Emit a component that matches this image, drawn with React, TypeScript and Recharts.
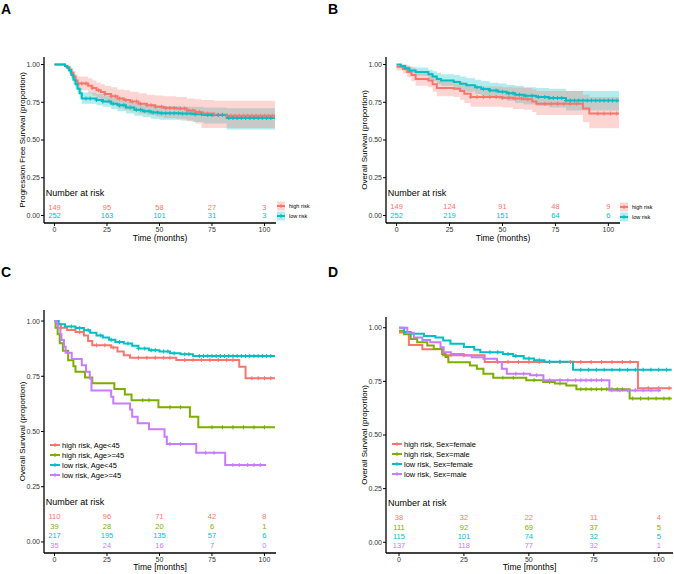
import React from "react";
import { ComposedChart, Line, Area, Scatter, XAxis, YAxis, Legend } from "recharts";

const RED = "#F8766D";
const GREEN = "#7CAE00";
const CYAN = "#00BFC4";
const PURPLE = "#C77CFF";
const FONT = '"Liberation Sans", Arial, Helvetica, sans-serif';

const RISK_T = [0, 25, 50, 75, 100];
const Y_TICKS = [0, 0.25, 0.5, 0.75, 1];

// ---- A: progression free survival, high / low risk
const aHighT = [0, 5, 6, 7, 8, 9, 10, 11, 16, 18, 20, 22, 24, 27, 30, 33, 36, 40, 44, 48, 52, 58, 63, 67, 70, 76, 82, 105];
const aHighS = [1, 0.99, 0.98, 0.965, 0.945, 0.92, 0.895, 0.875, 0.86, 0.845, 0.83, 0.818, 0.805, 0.79, 0.775, 0.765, 0.755, 0.74, 0.73, 0.72, 0.712, 0.708, 0.695, 0.685, 0.675, 0.668, 0.66, 0.66];
const aHighLo = [1, 0.975, 0.96, 0.94, 0.915, 0.885, 0.855, 0.83, 0.81, 0.795, 0.775, 0.76, 0.745, 0.73, 0.71, 0.7, 0.69, 0.675, 0.665, 0.655, 0.645, 0.64, 0.625, 0.61, 0.58, 0.58, 0.58, 0.58];
const aHighHi = [1, 1, 1, 0.99, 0.975, 0.955, 0.935, 0.92, 0.91, 0.895, 0.88, 0.87, 0.86, 0.85, 0.835, 0.83, 0.82, 0.81, 0.8, 0.795, 0.79, 0.785, 0.775, 0.77, 0.765, 0.76, 0.76, 0.76];
const aHighCens = [13, 15, 18, 21, 24, 27, 29, 31, 34, 37, 39, 41, 44, 46, 48, 51, 53, 55, 57, 60, 62, 64, 66, 69, 71, 73, 76, 78, 80, 82, 84, 86, 88, 90, 92, 94, 96, 98, 100, 102, 104];
const aHighRisk = [149, 95, 58, 27, 3];

const aLowT = [0, 5, 6, 7, 8, 9, 10, 11, 12, 13, 20, 23, 27, 30, 34, 38, 42, 46, 50, 60, 66, 71, 82, 105];
const aLowS = [1, 0.99, 0.98, 0.96, 0.93, 0.9, 0.87, 0.84, 0.81, 0.775, 0.765, 0.755, 0.74, 0.73, 0.715, 0.7, 0.69, 0.683, 0.678, 0.675, 0.67, 0.665, 0.645, 0.645];
const aLowLo = [1, 0.98, 0.965, 0.94, 0.905, 0.87, 0.84, 0.805, 0.775, 0.74, 0.73, 0.72, 0.705, 0.69, 0.675, 0.66, 0.65, 0.64, 0.635, 0.63, 0.62, 0.61, 0.57, 0.57];
const aLowHi = [1, 1, 0.995, 0.98, 0.955, 0.93, 0.9, 0.875, 0.845, 0.815, 0.805, 0.795, 0.78, 0.77, 0.755, 0.745, 0.735, 0.73, 0.725, 0.72, 0.72, 0.715, 0.71, 0.71];
const aLowCens = [15, 17, 20, 23, 26, 28, 31, 33, 36, 39, 41, 43, 45, 47, 49, 51, 53, 55, 57, 59, 61, 63, 65, 67, 70, 73, 75, 78, 80, 83, 85, 87, 89, 91, 93, 95, 97, 99, 101, 103];
const aLowRisk = [252, 163, 101, 31, 3];

// ---- B: overall survival, high / low risk
const bHighT = [0, 3, 5, 7, 9, 15, 17, 19, 27, 30, 32, 35, 50, 55, 60, 64, 66, 88, 91, 105];
const bHighS = [0.985, 0.97, 0.95, 0.93, 0.905, 0.895, 0.87, 0.845, 0.84, 0.825, 0.807, 0.785, 0.78, 0.775, 0.77, 0.755, 0.74, 0.708, 0.675, 0.675];
const bHighLo = [0.96, 0.94, 0.915, 0.89, 0.86, 0.85, 0.82, 0.79, 0.785, 0.765, 0.745, 0.72, 0.715, 0.705, 0.7, 0.685, 0.665, 0.62, 0.578, 0.578];
const bHighHi = [1, 1, 0.99, 0.975, 0.955, 0.945, 0.925, 0.9, 0.895, 0.885, 0.87, 0.855, 0.85, 0.848, 0.845, 0.835, 0.825, 0.8, 0.785, 0.785];
const bHighCens = [35, 38, 41, 44, 47, 50, 53, 56, 59, 62, 70, 73, 76, 79, 82, 85, 95, 98, 101, 104];
const bHighRisk = [149, 124, 91, 48, 9];

const bLowT = [0, 2, 4, 6, 9, 15, 17, 19, 21, 27, 30, 33, 37, 40, 44, 48, 52, 56, 60, 66, 72, 80, 105];
const bLowS = [1, 0.99, 0.975, 0.96, 0.95, 0.935, 0.92, 0.905, 0.895, 0.885, 0.872, 0.862, 0.85, 0.838, 0.828, 0.82, 0.81, 0.8, 0.793, 0.785, 0.778, 0.762, 0.762];
const bLowLo = [1, 0.975, 0.955, 0.94, 0.925, 0.905, 0.89, 0.87, 0.86, 0.845, 0.83, 0.82, 0.805, 0.79, 0.78, 0.77, 0.76, 0.745, 0.735, 0.725, 0.715, 0.695, 0.695];
const bLowHi = [1, 1, 0.995, 0.985, 0.98, 0.965, 0.955, 0.945, 0.935, 0.93, 0.92, 0.91, 0.9, 0.89, 0.88, 0.875, 0.865, 0.86, 0.85, 0.845, 0.84, 0.825, 0.825];
const bLowCens = [38, 41, 44, 47, 50, 53, 55, 58, 61, 64, 67, 70, 72, 74, 76, 78, 80, 82, 84, 86, 88, 90, 92, 94, 96, 98, 100, 102, 104];
const bLowRisk = [252, 219, 151, 64, 6];

// ---- C: overall survival by risk and age
const cHighYoungT = [0, 1, 3, 6, 10, 14, 16, 18, 27, 30, 33, 36, 58, 88, 91, 105];
const cHighYoungS = [1, 0.985, 0.97, 0.96, 0.95, 0.935, 0.91, 0.89, 0.88, 0.862, 0.845, 0.834, 0.824, 0.793, 0.741, 0.741];
const cHighYoungCens = [3, 12, 20, 24, 28, 40, 44, 48, 52, 55, 62, 66, 70, 74, 78, 82, 85, 94, 97, 100, 103];
const cHighYoungRisk = [110, 96, 71, 42, 8];

const cHighOldT = [0, 0.5, 1.5, 2.5, 4, 6.5, 9, 10, 14.5, 18, 28.5, 33.5, 36.7, 49.5, 64.5, 68.5, 105];
const cHighOldS = [1, 0.97, 0.94, 0.9, 0.865, 0.823, 0.795, 0.77, 0.745, 0.718, 0.692, 0.667, 0.641, 0.61, 0.567, 0.519, 0.519];
const cHighOldCens = [42, 45, 55, 60, 75, 80, 85, 90, 95, 100];
const cHighOldRisk = [39, 28, 20, 6, 1];

const cLowYoungT = [0, 2, 5, 10, 14, 17, 20, 23, 26, 29, 33, 37, 40, 45, 50, 55, 60, 66, 105];
const cLowYoungS = [1, 0.985, 0.975, 0.968, 0.958, 0.947, 0.935, 0.925, 0.915, 0.905, 0.898, 0.888, 0.876, 0.868, 0.862, 0.854, 0.85, 0.842, 0.842];
const cLowYoungCens = [8, 12, 16, 22, 27, 31, 35, 40, 43, 46, 48, 52, 54, 57, 62, 64, 69, 71, 73, 75, 77, 79, 81, 83, 85, 87, 89, 91, 93, 95, 97, 99, 101, 103];
const cLowYoungRisk = [217, 195, 135, 57, 6];

const cLowOldT = [0, 1, 1.6, 2.8, 3.3, 4.5, 5.3, 8.2, 13, 15, 16.8, 17.6, 27, 28, 36, 37, 39.6, 45, 52.4, 53.5, 67.5, 81.3, 100.8];
const cLowOldS = [1, 0.985, 0.97, 0.94, 0.914, 0.884, 0.857, 0.828, 0.8, 0.771, 0.74, 0.686, 0.657, 0.627, 0.6, 0.567, 0.537, 0.51, 0.476, 0.443, 0.404, 0.348, 0.348];
const cLowOldCens = [55, 60, 72, 76, 85, 88, 92, 95, 98];
const cLowOldRisk = [35, 24, 16, 7, 0];

// ---- D: overall survival by risk and sex
const dHighFT = [0, 3.8, 9, 17, 33, 92, 105];
const dHighFS = [0.978, 0.92, 0.9, 0.872, 0.84, 0.718, 0.718];
const dHighFCens = [20, 25, 38, 42, 46, 50, 54, 58, 62, 66, 70, 74, 78, 82, 86, 89, 96, 100, 104];
const dHighFRisk = [38, 32, 22, 11, 4];

const dHighMT = [0, 1.9, 4.5, 7, 10.9, 13.4, 16.6, 17.9, 19, 27.3, 30, 32.5, 36.3, 49, 55.5, 60, 64.4, 68.3, 88.8, 105];
const dHighMS = [0.986, 0.97, 0.948, 0.932, 0.917, 0.901, 0.878, 0.863, 0.839, 0.824, 0.809, 0.786, 0.767, 0.755, 0.747, 0.74, 0.731, 0.713, 0.67, 0.67];
const dHighMCens = [40, 44, 52, 58, 62, 70, 72, 74, 76, 78, 80, 82, 84, 86, 90, 93, 96, 99, 102, 104];
const dHighMRisk = [111, 92, 69, 37, 5];

const dLowFT = [0, 2, 4.5, 9.6, 14, 17, 19.8, 25, 29, 31.3, 40, 44, 48, 52, 56, 67, 105];
const dLowFS = [1, 0.98, 0.972, 0.962, 0.955, 0.94, 0.925, 0.91, 0.897, 0.886, 0.877, 0.868, 0.856, 0.848, 0.842, 0.804, 0.804];
const dLowFCens = [35, 38, 42, 45, 50, 54, 58, 62, 70, 73, 76, 79, 82, 85, 88, 91, 94, 97, 100, 103];
const dLowFRisk = [115, 101, 74, 32, 5];

const dLowMT = [0, 3.2, 5.7, 9, 12, 16, 17.2, 20, 24.9, 28, 32.5, 37.7, 39.6, 41.5, 50.5, 55.6, 81, 100.8];
const dLowMS = [1, 0.977, 0.955, 0.943, 0.932, 0.909, 0.886, 0.878, 0.87, 0.862, 0.855, 0.84, 0.809, 0.786, 0.778, 0.755, 0.708, 0.708];
const dLowMCens = [45, 48, 53, 58, 62, 65, 68, 70, 72, 74, 76, 78, 82, 85, 88, 91, 94, 97, 100];
const dLowMRisk = [137, 118, 77, 32, 1];

type Curve = {
  name: string;
  color: string;
  t: number[];
  s: number[];
  cens: number[];
  risk: number[];
  riskY: number;
  lo?: number[];
  hi?: number[];
};

const steps = (t: number[], s: number[]) => t.map((x, i) => ({ t: x, s: s[i] }));
const bandData = (t: number[], lo: number[], hi: number[]) => t.map((x, i) => ({ t: x, ci: [lo[i], hi[i]] }));
const survAt = (t: number[], s: number[], x: number) => {
  let v = s[0];
  for (let i = 0; i < t.length; i++) if (t[i] <= x) v = s[i];
  return v;
};

const plusShape = (color: string, r: number) => (p: any) => (
  <path d={`M${p.cx - r},${p.cy}H${p.cx + r}M${p.cx},${p.cy - r}V${p.cy + r}`} stroke={color} strokeWidth={1.1} fill="none" />
);

const textShape = (color: string, size: number, anchor: string) => (p: any) => (
  <text x={p.cx} y={p.cy} dy="0.35em" textAnchor={anchor} fontSize={size} fill={color} fontFamily={FONT}>
    {p.payload.label}
  </text>
);

function KeyLegend({ curves, fontSize, band, keyW }: { curves: Curve[]; fontSize: number; band: boolean; keyW: number }) {
  return (
    <div style={{ fontFamily: FONT, fontSize, color: "#000", whiteSpace: "nowrap" }}>
      {curves.map((c) => (
        <div key={c.name} style={{ display: "flex", alignItems: "center", height: 10 }}>
          <svg width={keyW} height={10} style={{ display: "block" }}>
            {band && <rect x={0} y={0.5} width={keyW} height={9} fill={c.color} fillOpacity={0.3} />}
            <line x1={0} x2={keyW} y1={5} y2={5} stroke={c.color} strokeWidth={2} />
            <path d={`M${keyW / 2 - 2},5H${keyW / 2 + 2}M${keyW / 2},3V7`} stroke={c.color} strokeWidth={1} />
          </svg>
          <span style={{ marginLeft: band ? 4 : 2 }}>{c.name}</span>
        </div>
      ))}
    </div>
  );
}

type PanelProps = {
  left: number;
  top: number;
  width: number;
  height: number;
  margin: { top: number; right: number; bottom: number; left: number };
  yWidth: number;
  xHeight: number;
  yLabel: string;
  yLabelOffset: number;
  xLabel: string;
  xLabelOffset: number;
  curves: Curve[];
  titleY: number;
  legendPos: { left: number; top: number };
  legendFont: number;
  band: boolean;
};

function Panel(p: PanelProps) {
  const tick = { fontSize: 7, fill: "#333", fontFamily: FONT };
  return (
    <div style={{ position: "absolute", left: p.left, top: p.top }}>
      <ComposedChart width={p.width} height={p.height} margin={p.margin}>
        <XAxis
          type="number"
          dataKey="t"
          domain={[-5, 105.5]}
          ticks={RISK_T}
          allowDataOverflow
          height={p.xHeight}
          tickSize={3}
          tickMargin={1}
          tick={tick}
          axisLine={{ stroke: "#000", strokeWidth: 1.3 }}
          tickLine={{ stroke: "#000" }}
          label={{ value: p.xLabel, position: "insideBottom", offset: p.xLabelOffset, fontSize: 8.5, fill: "#000", fontFamily: FONT }}
        />
        <YAxis
          type="number"
          dataKey="s"
          domain={[-0.05, 1.05]}
          ticks={Y_TICKS}
          allowDataOverflow
          width={p.yWidth}
          tickSize={3}
          tickMargin={1}
          tick={tick}
          tickFormatter={(v: number) => v.toFixed(2)}
          axisLine={{ stroke: "#000", strokeWidth: 1.3 }}
          tickLine={{ stroke: "#000" }}
          label={{
            value: p.yLabel,
            angle: -90,
            position: "insideLeft",
            offset: p.yLabelOffset,
            fontSize: 8,
            fill: "#000",
            fontFamily: FONT,
            style: { textAnchor: "middle" },
          }}
        />
        {p.band &&
          [...p.curves].reverse().map((c) => (
            <Area
              key={"band-" + c.name}
              data={bandData(c.t, c.lo!, c.hi!)}
              dataKey="ci"
              type="stepAfter"
              fill={c.color}
              fillOpacity={0.3}
              stroke="none"
              isAnimationActive={false}
              legendType="none"
            />
          ))}
        {p.curves.map((c) => (
          <Line
            key={"line-" + c.name}
            data={steps(c.t, c.s)}
            dataKey="s"
            type="stepAfter"
            stroke={c.color}
            strokeWidth={2}
            dot={false}
            activeDot={false}
            isAnimationActive={false}
            legendType="none"
          />
        ))}
        {p.curves.map((c) => (
          <Scatter
            key={"cens-" + c.name}
            data={c.cens.map((x) => ({ t: x, s: survAt(c.t, c.s, x) }))}
            dataKey="s"
            shape={plusShape(c.color, 2)}
            isAnimationActive={false}
            legendType="none"
          />
        ))}
        {p.curves.map((c) => (
          <Scatter
            key={"risk-" + c.name}
            data={c.risk.map((n, j) => ({ t: RISK_T[j], s: c.riskY, label: String(n) }))}
            dataKey="s"
            shape={textShape(c.color, 7.5, "middle")}
            isAnimationActive={false}
            legendType="none"
          />
        ))}
        <Scatter
          data={[{ t: -4.2, s: p.titleY, label: "Number at risk" }]}
          dataKey="s"
          shape={textShape("#000", 9, "start")}
          isAnimationActive={false}
          legendType="none"
        />
        <Legend
          layout="vertical"
          align="center"
          verticalAlign="middle"
          wrapperStyle={{ left: p.legendPos.left, top: p.legendPos.top, width: "auto" }}
          content={() => <KeyLegend curves={p.curves} fontSize={p.legendFont} band={p.band} keyW={p.band ? 8 : 10} />}
        />
      </ComposedChart>
    </div>
  );
}

const curvesA: Curve[] = [
  { name: "high risk", color: RED, t: aHighT, s: aHighS, lo: aHighLo, hi: aHighHi, cens: aHighCens, risk: aHighRisk, riskY: 0.055 },
  { name: "low risk", color: CYAN, t: aLowT, s: aLowS, lo: aLowLo, hi: aLowHi, cens: aLowCens, risk: aLowRisk, riskY: 0 },
];
const curvesB: Curve[] = [
  { name: "high risk", color: RED, t: bHighT, s: bHighS, lo: bHighLo, hi: bHighHi, cens: bHighCens, risk: bHighRisk, riskY: 0.06 },
  { name: "low risk", color: CYAN, t: bLowT, s: bLowS, lo: bLowLo, hi: bLowHi, cens: bLowCens, risk: bLowRisk, riskY: 0 },
];
const curvesC: Curve[] = [
  { name: "high risk, Age<45", color: RED, t: cHighYoungT, s: cHighYoungS, cens: cHighYoungCens, risk: cHighYoungRisk, riskY: 0.115 },
  { name: "high risk, Age>=45", color: GREEN, t: cHighOldT, s: cHighOldS, cens: cHighOldCens, risk: cHighOldRisk, riskY: 0.072 },
  { name: "low risk, Age<45", color: CYAN, t: cLowYoungT, s: cLowYoungS, cens: cLowYoungCens, risk: cLowYoungRisk, riskY: 0.029 },
  { name: "low risk, Age>=45", color: PURPLE, t: cLowOldT, s: cLowOldS, cens: cLowOldCens, risk: cLowOldRisk, riskY: -0.017 },
];
const curvesD: Curve[] = [
  { name: "high risk, Sex=female", color: RED, t: dHighFT, s: dHighFS, cens: dHighFCens, risk: dHighFRisk, riskY: 0.114 },
  { name: "high risk, Sex=male", color: GREEN, t: dHighMT, s: dHighMS, cens: dHighMCens, risk: dHighMRisk, riskY: 0.071 },
  { name: "low risk, Sex=female", color: CYAN, t: dLowFT, s: dLowFS, cens: dLowFCens, risk: dLowFRisk, riskY: 0.028 },
  { name: "low risk, Sex=male", color: PURPLE, t: dLowMT, s: dLowMS, cens: dLowMCens, risk: dLowMRisk, riskY: -0.014 },
];

export default function App() {
  return (
    <div style={{ position: "absolute", left: 0, top: 0, width: 674, height: 574, background: "#fff", fontFamily: FONT }}>
      <Panel
        left={0} top={0} width={337} height={290}
        margin={{ top: 57, right: 61, bottom: 47, left: 0 }}
        yWidth={44} xHeight={20}
        yLabel="Progression Free Survival (proportion)" yLabelOffset={22}
        xLabel="Time (months)" xLabelOffset={2}
        curves={curvesA} titleY={0.153}
        legendPos={{ left: 277, top: 201 }} legendFont={5.5} band
      />
      <Panel
        left={337} top={0} width={337} height={290}
        margin={{ top: 57, right: 54, bottom: 47, left: 0 }}
        yWidth={49} xHeight={20}
        yLabel="Overall Survival (proportion)" yLabelOffset={27}
        xLabel="Time (months)" xLabelOffset={2}
        curves={curvesB} titleY={0.149}
        legendPos={{ left: 283, top: 202 }} legendFont={5.5} band
      />
      <Panel
        left={0} top={290} width={337} height={284}
        margin={{ top: 20, right: 61, bottom: 0, left: 0 }}
        yWidth={44} xHeight={21}
        yLabel="Overall Survival (proportion)" yLabelOffset={22}
        xLabel="Time [months]" xLabelOffset={4}
        curves={curvesC} titleY={0.182}
        legendPos={{ left: 50, top: 150 }} legendFont={7.5} band={false}
      />
      <Panel
        left={337} top={290} width={337} height={284}
        margin={{ top: 27, right: 1, bottom: 0, left: 0 }}
        yWidth={49} xHeight={21}
        yLabel="Overall Survival (proportion)" yLabelOffset={27}
        xLabel="Time [months]" xLabelOffset={4}
        curves={curvesD} titleY={0.185}
        legendPos={{ left: 55, top: 149 }} legendFont={7.5} band={false}
      />
      <svg width={674} height={574} style={{ position: "absolute", left: 0, top: 0, pointerEvents: "none" }}>
        <g fontFamily={FONT} fontWeight="bold" fontSize={14} fill="#000">
          <text x={1} y={13.5}>A</text>
          <text x={328} y={13.5}>B</text>
          <text x={1} y={277}>C</text>
          <text x={328} y={277}>D</text>
        </g>
      </svg>
    </div>
  );
}
